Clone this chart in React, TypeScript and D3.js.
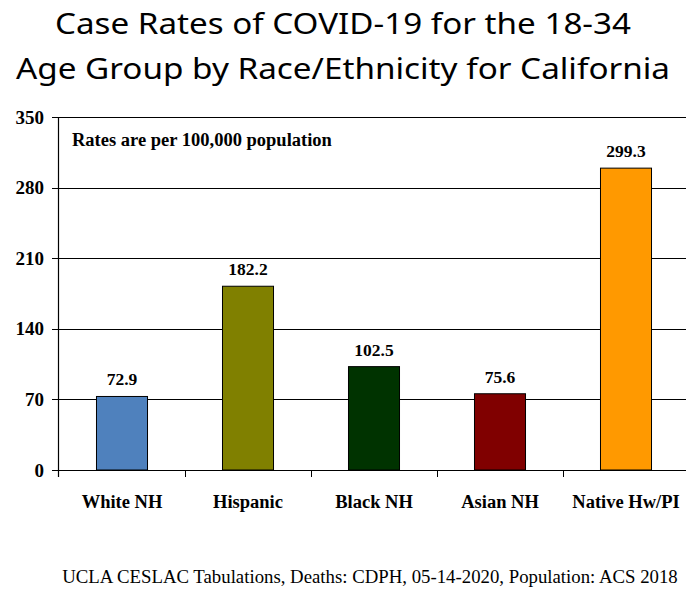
import React from "react";
import * as d3 from "d3";

const categories = ["White NH", "Hispanic", "Black NH", "Asian NH", "Native Hw/PI"];
const rates = [72.9, 182.2, 102.5, 75.6, 299.3];
const barColors = ["#4F81BD", "#808000", "#003300", "#800000", "#FF9900"];
const yTicks = [0, 70, 140, 210, 280, 350];
const titleLines = ["Case Rates of COVID-19 for the 18-34", "Age Group by Race/Ethnicity for California"];
const note = "Rates are per 100,000 population";
const footer = "UCLA CESLAC Tabulations, Deaths: CDPH, 05-14-2020, Population: ACS 2018";

const W = 686;
const H = 590;
const serif = "'Liberation Serif', 'Times New Roman', serif";

export default function App() {
  const x = d3
    .scaleBand<string>()
    .domain(categories)
    .range([59, 689])
    .paddingInner(0.595)
    .paddingOuter(0.2975);
  const y = d3.scaleLinear().domain([0, 350]).range([470, 117]);
  const step = x.step();
  const left = 59;
  const r = (v: number) => Math.round(v) + 0.5;

  return (
    <svg
      width={W}
      height={H}
      style={{ position: "absolute", left: 0, top: 0, background: "#fff" }}
    >
      <rect width={W} height={H} fill="#fff" />
      {titleLines.map((t, i) => (
        <text
          key={i}
          x={W / 2}
          y={i === 0 ? 34 : 79}
          textAnchor="middle"
          fontFamily="'Noto Sans', 'Open Sans', sans-serif"
          fontSize={29.5}
          fill="#000"
          textLength={i === 0 ? 576 : 654}
          lengthAdjust="spacingAndGlyphs"
        >
          {t}
        </text>
      ))}
      {/* gridlines */}
      {yTicks.map((t) => (
        <g key={t}>
          {t > 0 && (
            <line x1={left} x2={W} y1={r(y(t))} y2={r(y(t))} stroke="#000" strokeWidth={1} />
          )}
          <line x1={52} x2={left} y1={r(y(t))} y2={r(y(t))} stroke="#000" strokeWidth={1} />
          <text
            x={44}
            y={y(t) + 6.5}
            textAnchor="end"
            fontFamily={serif}
            fontWeight="bold"
            fontSize={19}
            fill="#000"
          >
            {t}
          </text>
        </g>
      ))}
      {/* bars */}
      {categories.map((c, i) => (
        <rect
          key={c}
          x={x(c)!}
          y={y(rates[i])}
          width={x.bandwidth()}
          height={y(0) - y(rates[i])}
          fill={barColors[i]}
          stroke="#000"
          strokeWidth={1}
        />
      ))}
      {/* axes */}
      <line x1={r(left) - 1} x2={r(left) - 1} y1={117} y2={477} stroke="#000" strokeWidth={1.2} />
      <line x1={left - 1} x2={W} y1={r(y(0))} y2={r(y(0))} stroke="#000" strokeWidth={1} />
      {categories.slice(1).map((c, i) => (
        <line
          key={c}
          x1={r(left + step * (i + 1))}
          x2={r(left + step * (i + 1))}
          y1={y(0)}
          y2={y(0) + 7}
          stroke="#000"
          strokeWidth={1}
        />
      ))}
      {/* value labels */}
      {categories.map((c, i) => (
        <text
          key={c}
          x={x(c)! + x.bandwidth() / 2}
          y={y(rates[i]) - 11}
          textAnchor="middle"
          fontFamily={serif}
          fontWeight="bold"
          fontSize={17.5}
          fill="#000"
        >
          {rates[i].toFixed(1)}
        </text>
      ))}
      {/* category labels */}
      {categories.map((c) => (
        <text
          key={c}
          x={x(c)! + x.bandwidth() / 2}
          y={508}
          textAnchor="middle"
          fontFamily={serif}
          fontWeight="bold"
          fontSize={18.5}
          fill="#000"
        >
          {c}
        </text>
      ))}
      <text x={72} y={146} fontFamily={serif} fontWeight="bold" fontSize={18.5} fill="#000">
        {note}
      </text>
      <text x={370} y={583} textAnchor="middle" fontFamily={serif} fontSize={18.8} fill="#000">
        {footer}
      </text>
    </svg>
  );
}
